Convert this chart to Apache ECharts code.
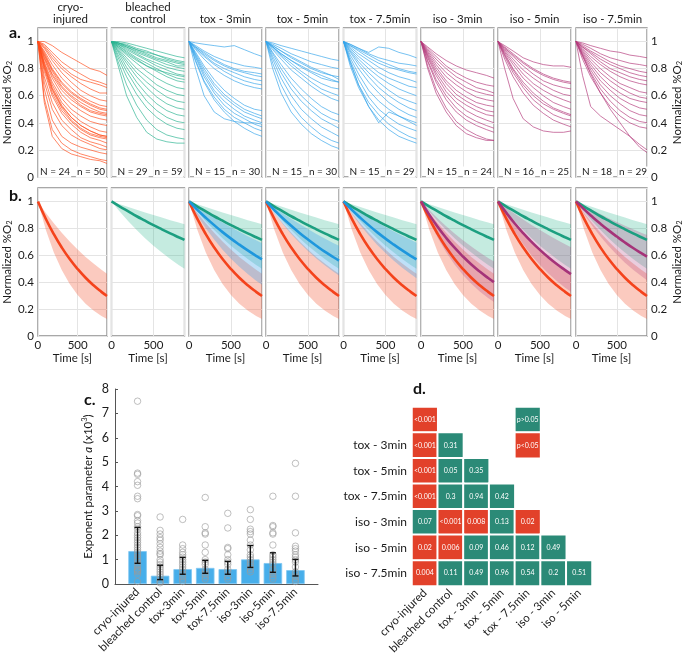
<!DOCTYPE html>
<html><head><meta charset="utf-8">
<script src="https://cdn.jsdelivr.net/npm/echarts@6/dist/echarts.min.js"></script>
<style>html,body{margin:0;padding:0;background:#fff}#c{width:685px;height:661px}</style>
</head><body><div id="c"></div><script>
const FONT = 'Lato';
const TXT = '#1a1a1a';
// ---------- DATA ----------
const panelTitles = ['cryo-\ninjured','bleached\ncontrol','tox - 3min','tox - 5min','tox - 7.5min','iso - 3min','iso - 5min','iso - 7.5min'];
const animalsN = [24,29,15,15,15,15,16,18];
const samplesN = [50,59,30,30,29,24,25,29];
const traceTimes = [0,80,180,300,420,540,660,780,870];
const cryoTraces = [
[1,1,.97,.92,.88,.84,.80,.78,.75],[1,.98,.92,.85,.80,.76,.72,.70,.68],[1,.96,.88,.80,.74,.69,.65,.62,.62],
[1,.95,.86,.77,.70,.64,.60,.57,.56],[1,.93,.83,.73,.66,.60,.56,.53,.52],[1,.92,.80,.70,.63,.58,.54,.51,.50],
[1,.90,.78,.67,.60,.55,.51,.48,.47],[1,.88,.75,.64,.57,.52,.48,.46,.45],[1,.87,.73,.61,.54,.49,.45,.43,.42],
[1,.85,.70,.58,.50,.45,.41,.39,.38],[1,.84,.68,.55,.47,.41,.37,.34,.33],[1,.82,.65,.52,.44,.38,.34,.31,.30],
[1,.80,.62,.49,.41,.35,.31,.29,.28],[1,.78,.60,.47,.39,.33,.29,.27,.25],[1,.74,.55,.42,.35,.29,.26,.24,.22],
[1,.70,.50,.38,.31,.27,.24,.21,.20],[1,.65,.42,.30,.25,.22,.20,.18,.17],[1,.58,.35,.25,.20,.17,.15,.13,.12],
[1,.55,.30,.21,.17,.15,.13,.12,.10],[1,.97,.90,.82,.76,.72,.70,.68,.66],[1,.91,.79,.69,.62,.57,.53,.50,.49],
[1,.89,.76,.66,.59,.53,.49,.47,.46],[1,.83,.66,.53,.44,.38,.34,.31,.30],[1,.81,.64,.51,.42,.36,.32,.30,.29]];
const bleachedTraces = [
[1,1,.99,.97,.95,.93,.91,.89,.88],[1,.99,.98,.95,.93,.90,.88,.86,.85],[1,.99,.97,.94,.91,.88,.86,.84,.83],
[1,.99,.96,.92,.89,.86,.83,.81,.80],[1,.98,.95,.91,.87,.84,.81,.79,.78],[1,.98,.94,.90,.86,.82,.79,.76,.75],
[1,.97,.93,.88,.84,.80,.76,.73,.72],[1,.97,.92,.87,.82,.78,.74,.71,.70],[1,.96,.90,.84,.78,.73,.69,.66,.65],
[1,.95,.88,.80,.74,.68,.64,.61,.60],[1,.94,.86,.77,.70,.64,.59,.56,.55],[1,.93,.84,.74,.66,.59,.54,.51,.50],
[1,.92,.81,.70,.61,.54,.49,.46,.45],[1,.90,.78,.66,.56,.49,.44,.41,.40],[1,.88,.74,.61,.51,.44,.39,.36,.35],
[1,.85,.68,.53,.42,.35,.31,.29,.28],[1,.82,.60,.44,.33,.28,.26,.25,.25],[1,.99,.97,.94,.92,.90,.87,.85,.84],
[1,.98,.96,.93,.90,.87,.85,.82,.82],[1,.96,.91,.86,.82,.79,.77,.75,.74]];
const tox3Traces = [
[1,.99,.98,.97,.96,.97,.94,.91,.89],[1,.97,.93,.89,.86,.84,.82,.81,.80],[1,.96,.91,.86,.82,.79,.77,.75,.74],
[1,.95,.90,.84,.80,.77,.74,.72,.71],[1,.95,.89,.83,.78,.74,.71,.69,.68],[1,.94,.87,.80,.75,.71,.68,.66,.65],
[1,.96,.92,.87,.83,.80,.78,.77,.76],[1,.92,.82,.72,.64,.58,.53,.50,.49],[1,.91,.80,.69,.61,.55,.50,.47,.45],
[1,.90,.78,.67,.59,.53,.48,.45,.43],[1,.89,.76,.64,.56,.50,.45,.42,.40],[1,.88,.74,.62,.53,.47,.43,.39,.37],
[1,.86,.71,.59,.50,.44,.40,.36,.34],[1,.85,.70,.57,.48,.41,.36,.32,.30],[1,.80,.60,.48,.43,.41,.40,.40,.39]];
const tox5Traces = [
[1,.99,.97,.95,.93,.91,.89,.87,.86],[1,.98,.95,.91,.88,.85,.83,.81,.80],[1,.97,.93,.88,.84,.80,.77,.75,.74],
[1,.96,.91,.86,.81,.77,.73,.71,.70],[1,.96,.90,.84,.78,.73,.69,.66,.65],[1,.95,.89,.82,.76,.70,.65,.62,.60],
[1,.94,.87,.79,.73,.67,.62,.58,.56],[1,.92,.83,.73,.65,.58,.52,.48,.46],[1,.91,.80,.69,.60,.53,.47,.43,.41],
[1,.89,.77,.65,.56,.49,.43,.39,.36],[1,.87,.73,.60,.50,.43,.37,.33,.30],[1,.84,.68,.54,.44,.37,.31,.27,.25],
[1,.80,.62,.48,.39,.32,.27,.23,.21],[1,.96,.91,.86,.82,.78,.75,.72,.70],[1,.97,.93,.89,.85,.81,.78,.75,.72]];
const tox75Traces = [
[1,.98,.95,.92,.96,.95,.92,.90,.88],[1,.98,.95,.91,.88,.86,.84,.83,.82],[1,.97,.93,.88,.84,.81,.79,.77,.76],
[1,.96,.91,.86,.81,.77,.74,.72,.70],[1,.95,.89,.83,.77,.73,.70,.67,.66],[1,.94,.87,.80,.74,.69,.65,.62,.60],
[1,.93,.85,.77,.70,.64,.59,.56,.54],[1,.92,.83,.74,.66,.60,.55,.51,.49],[1,.90,.80,.70,.62,.55,.50,.46,.44],
[1,.88,.76,.64,.56,.50,.45,.42,.40],[1,.86,.72,.59,.50,.44,.39,.36,.34],[1,.84,.68,.55,.46,.39,.34,.30,.28],
[1,.82,.66,.52,.42,.35,.30,.27,.25],[1,.85,.68,.52,.40,.48,.45,.41,.38],[1,.97,.94,.90,.86,.83,.80,.78,.77]];
const iso3Traces = [
[1,.96,.91,.86,.82,.79,.77,.75,.73],[1,.95,.89,.82,.77,.73,.70,.68,.67],[1,.93,.85,.77,.71,.66,.63,.61,.60],
[1,.92,.83,.74,.68,.63,.59,.57,.56],[1,.91,.81,.71,.64,.59,.55,.53,.52],[1,.90,.79,.69,.61,.56,.52,.49,.48],
[1,.89,.77,.66,.58,.53,.49,.46,.45],[1,.88,.75,.63,.55,.49,.45,.42,.40],[1,.86,.72,.60,.51,.45,.41,.38,.36],
[1,.85,.70,.57,.48,.42,.38,.35,.33],[1,.82,.65,.51,.41,.35,.31,.28,.27],[1,.80,.62,.48,.38,.32,.29,.27,.27],
[1,.94,.87,.80,.74,.70,.66,.64,.62]];
const iso5Traces = [
[1,.97,.93,.88,.85,.83,.82,.82,.81],[1,.96,.91,.85,.80,.76,.73,.71,.70],[1,.95,.89,.82,.76,.71,.68,.66,.65],
[1,.94,.87,.79,.73,.68,.64,.61,.60],[1,.93,.85,.76,.69,.64,.60,.57,.55],[1,.92,.83,.73,.66,.60,.55,.52,.50],
[1,.91,.80,.70,.62,.56,.51,.48,.46],[1,.89,.77,.66,.57,.51,.46,.43,.42],[1,.87,.74,.62,.53,.47,.42,.39,.37],
[1,.80,.58,.43,.37,.34,.33,.33,.34],[1,.95,.90,.84,.79,.75,.72,.70,.69],[1,.90,.79,.68,.60,.54,.50,.47,.45]];
const iso75Traces = [
[1,.99,.97,.95,.93,.92,.90,.89,.88],[1,.98,.95,.91,.88,.86,.84,.83,.82],[1,.97,.93,.89,.85,.82,.80,.78,.77],
[1,.96,.92,.87,.83,.80,.77,.75,.74],[1,.96,.91,.85,.80,.77,.74,.72,.71],[1,.95,.89,.83,.78,.74,.71,.69,.68],
[1,.94,.87,.80,.74,.69,.66,.63,.62],[1,.93,.85,.77,.71,.66,.62,.59,.58],[1,.92,.83,.74,.67,.62,.58,.56,.55],
[1,.91,.81,.71,.64,.58,.54,.51,.50],[1,.90,.79,.68,.60,.54,.49,.46,.45],[1,.89,.77,.65,.56,.49,.44,.41,.40],
[1,.87,.74,.62,.52,.45,.40,.37,.36],[1,.75,.52,.45,.40,.35,.30,.24,.20],[1,.90,.76,.62,.50,.40,.30,.22,.18]];

const fitTimes = [0,100,200,300,400,500,600,700,800,870];
const cryoFit = [1,.870,.757,.658,.572,.498,.433,.377,.328,.297];
const cryoHi  = [1,.915,.838,.767,.702,.642,.588,.538,.493,.463];
const cryoLo  = [1,.788,.621,.490,.386,.304,.240,.189,.149,.126];
const bleachedFit = [1,.962,.926,.890,.857,.824,.793,.763,.734,.714];
const bleachedHi  = [1,.979,.958,.938,.918,.899,.880,.861,.843,.830];
const bleachedLo  = [1,.923,.853,.787,.727,.671,.620,.572,.528,.500];
const tox3Fit = [1,.937,.879,.824,.772,.724,.679,.636,.596,.570];
const tox3Hi  = [1,.958,.918,.880,.843,.808,.774,.742,.711,.689];
const tox3Lo  = [1,.895,.801,.717,.641,.574,.514,.460,.411,.381];
const tox5Fit = [1,.936,.875,.819,.766,.717,.671,.627,.587,.560];
const tox5Hi  = [1,.955,.912,.871,.832,.795,.759,.725,.692,.670];
const tox5Lo  = [1,.912,.832,.759,.693,.632,.576,.526,.480,.450];
const tox75Fit = [1,.937,.879,.824,.772,.724,.679,.636,.596,.570];
const tox75Hi  = [1,.959,.919,.882,.845,.811,.777,.745,.715,.694];
const tox75Lo  = [1,.908,.824,.748,.679,.616,.559,.507,.460,.430];
const iso3Fit = [1,.900,.810,.729,.656,.591,.532,.479,.431,.400];
const iso3Hi  = [1,.934,.873,.815,.762,.712,.665,.621,.580,.553];
const iso3Lo  = [1,.854,.729,.623,.531,.454,.388,.331,.283,.253];
const iso5Fit = [1,.915,.836,.765,.700,.640,.585,.535,.490,.460];
const iso5Hi  = [1,.953,.908,.866,.825,.787,.750,.715,.681,.659];
const iso5Lo  = [1,.880,.774,.681,.599,.527,.464,.408,.359,.328];
const iso75Fit = [1,.941,.886,.834,.785,.739,.695,.654,.616,.590];
const iso75Hi  = [1,.968,.936,.906,.876,.848,.820,.794,.768,.750];
const iso75Lo  = [1,.904,.817,.739,.668,.604,.545,.493,.446,.415];

const barCats = [' ','cryo-injured','bleached control','tox-3min','tox-5min','tox-7.5min','iso-3min','iso-5min','iso-7.5min','  '];
const barMeans = [1.35,.34,.61,.66,.61,1.01,.86,.57];
const barLo = [.85,.18,.40,.44,.40,.68,.48,.33];
const barHi = [2.32,.77,1.09,.97,.93,1.58,1.28,1.01];
const barPoints = [
[7.5,4.55,4.5,4.2,4.05,3.6,3.5,2.85,2.8,2.6,2.5,2.35,2.25,2.1,2.0,1.9,1.8,1.7,1.6,1.5,1.4,1.3,1.2,1.1,1.0,.9,.8,.7,.6,.55,.5,.4,.1],
[2.75,2.2,2.05,1.9,1.8,1.65,1.5,1.35,1.25,1.2,1.0,.9,.8,.7,.6,.5,.4,.3,.2,.1,.05],
[2.65,1.6,1.45,1.3,1.2,1.1,1.0,.9,.8,.7,.6,.5,.4,.3,.2,.1],
[3.55,2.35,2.1,2.05,1.6,1.3,1.0,.9,.8,.6,.5,.4,.3,.2],
[2.9,2.3,1.5,1.45,1.2,1.0,.9,.8,.6,.5,.3,.2],
[3.05,2.65,2.25,2.15,2.05,1.8,1.6,1.4,1.2,1.1,1.0,.9,.8,.7,.6,.5],
[3.6,2.4,2.35,2.1,2.05,1.6,1.2,1.1,1.0,.9,.8,.6,.5,.4,.3,.2],
[4.95,3.6,2.1,1.55,1.45,1.35,1.2,1.1,1.0,.9,.7,.5,.4,.3,.2,.1]];

const pCols = ['cryo-injured','bleached control','tox - 3min','tox - 5min','tox - 7.5min','iso - 3min','iso - 5min'];
const pRows = ['','tox - 3min','tox - 5min','tox - 7.5min','iso - 3min','iso - 5min','iso - 7.5min'];
// [col, row, text, significant]
const pCells = [
[0,0,'<0.001',1],[4,0,'p>0.05',0],
[0,1,'<0.001',1],[1,1,'0.31',0],[4,1,'p<0.05',1],
[0,2,'<0.001',1],[1,2,'0.05',0],[2,2,'0.35',0],
[0,3,'<0.001',1],[1,3,'0.3',0],[2,3,'0.94',0],[3,3,'0.42',0],
[0,4,'0.07',0],[1,4,'<0.001',1],[2,4,'0.008',1],[3,4,'0.13',0],[4,4,'0.02',1],
[0,5,'0.02',1],[1,5,'0.006',1],[2,5,'0.09',0],[3,5,'0.46',0],[4,5,'0.12',0],[5,5,'0.49',0],
[0,6,'0.004',1],[1,6,'0.11',0],[2,6,'0.49',0],[3,6,'0.96',0],[4,6,'0.54',0],[5,6,'0.2',0],[6,6,'0.51',0]];

// ---------- STYLES ----------
const C = {red:'#f4431c', green:'#1c9f80', blue:'#1e97dd', purple:'#a53379'};
const traceColor = ['#ff4d1c','#2bb391','#35a5ea','#b43a7b'];
const bandColor = {red:'rgba(244,95,60,0.33)', green:'rgba(40,180,140,0.27)', blue:'rgba(60,160,235,0.33)', purple:'rgba(170,55,125,0.25)'};
const allTraces = [cryoTraces,bleachedTraces,tox3Traces,tox5Traces,tox75Traces,iso3Traces,iso5Traces,iso75Traces];
const traceCol = [traceColor[0],traceColor[1],traceColor[2],traceColor[2],traceColor[2],traceColor[3],traceColor[3],traceColor[3]];
const ownFit = [cryoFit,bleachedFit,tox3Fit,tox5Fit,tox75Fit,iso3Fit,iso5Fit,iso75Fit];
const ownHi = [cryoHi,bleachedHi,tox3Hi,tox5Hi,tox75Hi,iso3Hi,iso5Hi,iso75Hi];
const ownLo = [cryoLo,bleachedLo,tox3Lo,tox5Lo,tox75Lo,iso3Lo,iso5Lo,iso75Lo];
const ownKey = ['red','green','blue','blue','blue','purple','purple','purple'];

const panelLeft = [34,111.5,189,266,343.5,421,498,576];
const PW = 73;
const rowTop = [28,188], rowH = [149,148];
const gl = '#e4e4e4';
const grids=[], xAxes=[], yAxes=[], series=[], graphics=[];
const nameRich = {n:{fontSize:11.5,fontFamily:FONT,color:TXT,lineHeight:14}, s:{fontSize:7.5,fontFamily:FONT,color:TXT,verticalAlign:'bottom',lineHeight:9}};

for (let row=0; row<2; row++) {
  for (let i=0;i<8;i++) {
    const gi = row*8+i;
    grids.push({left:panelLeft[i], top:rowTop[row], width:PW, height:rowH[row], show:true, borderColor:'#8c8c8c', borderWidth:1.3, backgroundColor:'#fff'});
    xAxes.push({gridIndex:gi, type:'value', min:0, max:870, interval:500,
      axisLine:{show:false}, axisTick:{show:false}, splitLine:{show:true,lineStyle:{color:gl,width:1}},
      axisLabel:{show:row===1, showMaxLabel:false, fontSize:11.5, fontFamily:FONT, color:TXT, margin:3},
      name: row===1?'Time [s]':'', nameLocation:'middle', nameGap:16, nameTextStyle:{fontSize:11.5,fontFamily:FONT,color:TXT}});
    const lab = (i===0||i===7);
    yAxes.push({gridIndex:gi, type:'value', min:0, max:1.1, interval:0.2, position: i===7?'right':'left',
      axisLine:{show:false}, axisTick:{show:false}, splitLine:{show:true,lineStyle:{color:gl,width:1}},
      axisLabel:{show:lab, showMaxLabel:false, fontSize:11.5, fontFamily:FONT, color:TXT, margin:4},
      name: lab?'{n|Normalized %O}{s|2}':'', nameLocation:'middle', nameRotate:90, nameGap: i===0?21:23,
      nameTextStyle:{rich:nameRich}});
    if (row===0) {
      allTraces[i].forEach(tr => series.push({type:'line', xAxisIndex:gi, yAxisIndex:gi, silent:true, showSymbol:false,
        data: traceTimes.map((t,k)=>[t,tr[k]]), lineStyle:{width:0.8, color:traceCol[i], opacity:0.85}, z:2}));
    } else {
      const bands = [], lines = [];
      if (i>=2) { bands.push([bleachedLo,bleachedHi,'green']); bands.push([cryoLo,cryoHi,'red']); }
      bands.push([ownLo[i],ownHi[i],ownKey[i]]);
      if (i>=2) { lines.push([bleachedFit,'green']); lines.push([cryoFit,'red']); }
      lines.push([ownFit[i],ownKey[i]]);
      bands.forEach(b => {
        const lo=b[0], hi=b[1];
        series.push({type:'custom', xAxisIndex:gi, yAxisIndex:gi, silent:true, z:1,
          data: fitTimes.map((t,k)=>[t,lo[k],hi[k]]), encode:{x:0,y:[1,2]},
          renderItem:(params,api)=>{
            if (params.dataIndex!==0) return null;
            const pts=[];
            for (let k=0;k<fitTimes.length;k++) pts.push(api.coord([fitTimes[k],hi[k]]));
            for (let k=fitTimes.length-1;k>=0;k--) pts.push(api.coord([fitTimes[k],lo[k]]));
            return {type:'polygon', shape:{points:pts}, style:{fill:bandColor[b[2]]}};
          }});
      });
      lines.forEach(l => series.push({type:'line', xAxisIndex:gi, yAxisIndex:gi, silent:true, showSymbol:false, smooth:true,
        data: fitTimes.map((t,k)=>[t,l[0][k]]), lineStyle:{width:2.6, color:C[l[1]]}, z:3}));
    }
  }
}
// panel titles and N labels
for (let i=0;i<8;i++) {
  graphics.push({type:'text', x:panelLeft[i]+PW/2, y:26, style:{text:panelTitles[i], fontSize:11.5, fontFamily:FONT, fill:TXT, align:'center', verticalAlign:'bottom', lineHeight:12.5}});
  graphics.push({type:'text', x:panelLeft[i]+5, y:172, z:50, style:{text:'N = '+animalsN[i], fontSize:10, fontFamily:FONT, fill:TXT, align:'left', verticalAlign:'middle', backgroundColor:'#fff', padding:[1,1,0,1]}});
  graphics.push({type:'text', x:panelLeft[i]+PW-1, y:172, z:50, style:{text:'n = '+samplesN[i], fontSize:10, fontFamily:FONT, fill:TXT, align:'right', verticalAlign:'middle', backgroundColor:'#fff', padding:[1,1,0,1]}});
}
[['a.',9,33],['b.',9,196],['c.',84,400],['d.',413,389]].forEach(p => graphics.push({type:'text', x:p[1], y:p[2],
  style:{text:p[0], fontSize:16, fontWeight:'bold', fontFamily:FONT, fill:'#111', verticalAlign:'middle'}}));

// ---------- bar chart (c) ----------
const gB = 16;
grids.push({left:115, top:389, width:203, height:195});
xAxes.push({gridIndex:gB, type:'category', data:barCats, boundaryGap:false,
  axisLine:{lineStyle:{color:'#555',width:1}}, axisTick:{show:false},
  axisLabel:{interval:0, rotate:45, fontSize:11.5, fontFamily:FONT, color:TXT, margin:6}});
yAxes.push({gridIndex:gB, type:'value', min:0, max:8, interval:1,
  axisLine:{show:true, lineStyle:{color:'#555',width:1}}, axisTick:{show:true, inside:true, length:3, lineStyle:{color:'#555'}},
  splitLine:{show:false}, axisLabel:{fontSize:12.5, fontFamily:FONT, color:TXT, margin:6},
  name:'{n|Exponent parameter }{i|a}{n| (x10}{p|3}{n|)}', nameLocation:'middle', nameGap:20, nameRotate:90,
  nameTextStyle:{rich:{n:{fontSize:11.5,fontFamily:FONT,color:TXT,lineHeight:14}, i:{fontSize:11.5,fontFamily:FONT,fontStyle:'italic',color:TXT,lineHeight:14}, p:{fontSize:7.5,fontFamily:FONT,color:TXT,verticalAlign:'top',lineHeight:9}}}});
series.push({type:'bar', xAxisIndex:gB, yAxisIndex:gB, silent:true, barWidth:18.5,
  data: barMeans.map((v,i)=>[barCats[i+1],v]), itemStyle:{color:'#47aeea', borderColor:'#7fc6f1', borderWidth:0.8}, z:2});
barPoints.forEach((pts,i)=> series.push({type:'scatter', xAxisIndex:gB, yAxisIndex:gB, silent:true, symbol:'circle', symbolSize:6.5,
  data: pts.map(v=>[barCats[i+1],v]), itemStyle:{color:'rgba(255,255,255,0)', borderColor:'#9a9a9a', borderWidth:0.8}, z:3}));
series.push({type:'custom', xAxisIndex:gB, yAxisIndex:gB, silent:true, z:4,
  data: barMeans.map((v,i)=>[barCats[i+1], barLo[i], barHi[i]]), encode:{x:0,y:[1,2]},
  renderItem:(params,api)=>{
    const x=api.value(0);
    const a=api.coord([x,api.value(1)]), b=api.coord([x,api.value(2)]);
    const w=3, st={stroke:'#111',lineWidth:1.4};
    return {type:'group', children:[
      {type:'line', shape:{x1:a[0],y1:a[1],x2:b[0],y2:b[1]}, style:st},
      {type:'line', shape:{x1:a[0]-w,y1:a[1],x2:a[0]+w,y2:a[1]}, style:st},
      {type:'line', shape:{x1:b[0]-w,y1:b[1],x2:b[0]+w,y2:b[1]}, style:st}]};
  }});

// ---------- p-value matrix (d) ----------
const gH = 17;
grids.push({left:412, top:407, width:180, height:179});
xAxes.push({gridIndex:gH, type:'category', data:pCols, axisLine:{show:false}, axisTick:{show:false}, splitLine:{show:false},
  axisLabel:{interval:0, rotate:45, fontSize:11.5, fontFamily:FONT, color:TXT, margin:5}});
yAxes.push({gridIndex:gH, type:'category', data:pRows, inverse:true, axisLine:{show:false}, axisTick:{show:false}, splitLine:{show:false},
  axisLabel:{interval:0, fontSize:12, fontFamily:FONT, color:TXT, margin:5}});
const hmIndex = series.length;
series.push({type:'heatmap', xAxisIndex:gH, yAxisIndex:gH, silent:true,
  data: pCells.map(c=>[c[0],c[1],c[3]]),
  itemStyle:{borderColor:'#fff', borderWidth:2},
  label:{show:true, formatter:p=>pCells[p.dataIndex][2], fontSize:7, fontFamily:FONT, color:'#fff'}});

const option = {
  backgroundColor:'#fff', animation:false,
  textStyle:{fontFamily:FONT},
  grid:grids, xAxis:xAxes, yAxis:yAxes, series:series,
  visualMap:[{type:'piecewise', show:false, dimension:2, seriesIndex:hmIndex,
    pieces:[{value:0,color:'#2b8a77'},{value:1,color:'#e2412a'}]}],
  graphic:graphics
};
const chart = echarts.init(document.getElementById('c'));
chart.setOption(option);
</script></body></html>
